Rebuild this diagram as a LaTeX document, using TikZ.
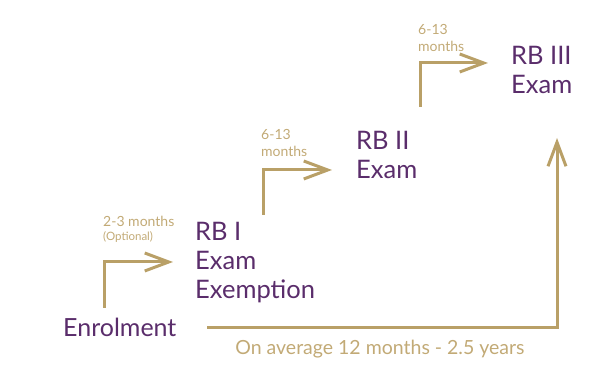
\documentclass[tikz,border=0pt]{standalone}
\usepackage{fontspec}
\setmainfont{Lato}
\usetikzlibrary{arrows.meta}
\definecolor{rbpurple}{HTML}{5A2D6B}
\definecolor{rbgold}{HTML}{B9A067}
\definecolor{rblabel}{HTML}{C2AA76}
\tikzset{
  stage/.style={anchor=base west, inner sep=0pt, align=left, text=rbpurple,
    font=\fontsize{25.5}{29}\selectfont},
  gap/.style={anchor=base west, inner sep=0pt, align=left, text=rblabel,
    font=\fontsize{14}{17}\selectfont},
  path/.style={draw=rbgold, line width=3pt,
    -{Straight Barb[length=24pt,width=18pt,line width=3pt]}}
}
\begin{document}
\begin{tikzpicture}[x=1pt, y=-1pt]
    \useasboundingbox (0,0) rectangle (611,379);

    % stages (base = last line)
    \node[stage, font=\fontsize{25}{29}\selectfont] (enrol) at (63,337) {Enrolment};
    \node[stage] (rb1) at (195,299) {RB I\\Exam\\Exemption};
    \node[stage] (rb2) at (356,179) {RB II\\Exam};
    \node[stage] (rb3) at (511,94) {RB III\\Exam};

    % corners of the steps
    \coordinate (s1) at (104,308);
    \coordinate (k1) at (104,262);
    \coordinate (s2) at (263,215);
    \coordinate (k2) at (263,170);
    \coordinate (s3) at (420,107);
    \coordinate (k3) at (420,63);

    % steps
    \draw[path] (s1) -- (k1) -- ([xshift=-22pt]k1 -| rb1.west);
    \draw[path] (s2) -- (k2) -- ([xshift=-24pt]k2 -| rb2.west);
    \draw[path] (s3) -- (k3) -- ([xshift=-23pt]k3 -| rb3.west);

    % time between the steps
    \node[gap] (t1) at (103,227) {2-3 months};
    \node[gap, font=\fontsize{11.5}{12}\selectfont] (o1) at (103,241) {(Optional)};
    \node[gap] (t2) at (261,157) {6-13\\months};
    \node[gap] (t3) at (418,52) {6-13\\months};

    % whole route
    \coordinate (e0) at (207,328);
    \coordinate (e1) at (557,328);
    \coordinate (e2) at (557,138);
    \draw[path] (e0) -- (e1) -- (e2);
    \node[text=rblabel, font=\fontsize{19.5}{22}\selectfont, anchor=base]
      (avg) at (380,355) {On average 12 months - 2.5 years};
\end{tikzpicture}
\end{document}
